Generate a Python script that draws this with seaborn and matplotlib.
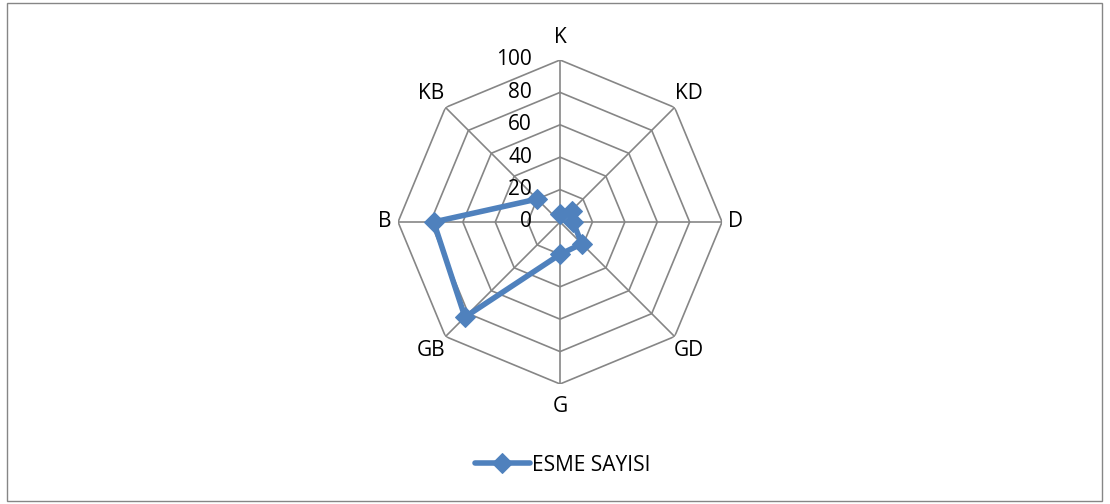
import numpy as np
import pandas as pd
import matplotlib
matplotlib.use("Agg")
import matplotlib.pyplot as plt
import matplotlib.transforms as mtransforms
from matplotlib.patches import Rectangle
import seaborn as sns

# yon kategorileri ve esme sayilari
yonler = ["K", "KD", "D", "GD", "G", "GB", "B", "KB"]
esme_sayisi = [5, 10, 8, 19, 20, 83, 78, 20]
halkalar = [0, 20, 40, 60, 80, 100]
seri_adi = "ESME SAYISI"

sns.set_theme(style="white")
plt.rcParams["font.family"] = ["Open Sans", "DejaVu Sans"]
plt.rcParams["text.color"] = "black"

mavi = "#4F81BD"
gri = "#868686"

fig = plt.figure(figsize=(11.1, 5.04), dpi=100)
ax = fig.add_axes([0.3586, 0.2381, 0.2919, 0.6429], projection="polar")
ax.set_theta_zero_location("N")
ax.set_theta_direction(-1)

n = len(yonler)
aci = np.linspace(0, 2 * np.pi, n, endpoint=False)
aci_kapali = np.append(aci, aci[0])

# sekizgen izgara
for r in halkalar[1:]:
    ax.plot(aci_kapali, [r] * (n + 1), color=gri, lw=1.2, zorder=1)
for t in aci:
    ax.plot([t, t], [0, halkalar[-1]], color=gri, lw=1.2, zorder=1)

df = pd.DataFrame({"aci": aci_kapali,
                   "deger": esme_sayisi + esme_sayisi[:1]})
sns.lineplot(data=df, x="aci", y="deger", sort=False, ax=ax,
             color=mavi, lw=4, marker="D", markersize=10,
             markeredgecolor=mavi, label=seri_adi, zorder=3)

ax.set_ylim(0, halkalar[-1])
ax.set_xticks([])
ax.set_yticks([])
ax.set_xlabel("")
ax.set_ylabel("")
ax.grid(False)
ax.spines["polar"].set_visible(False)
ax.patch.set_alpha(0)
if ax.get_legend() is not None:
    ax.get_legend().remove()

# yon etiketleri
for t, ad in zip(aci, yonler):
    dikey = abs(np.cos(t))
    ax.text(t, 108 + 6 * dikey, ad, ha="center", va="center",
            fontsize=15, color="black")

# halka etiketleri
kaydir = mtransforms.offset_copy(ax.transData, fig=fig, x=-28, y=0, units="dots")
for r in halkalar:
    ax.text(0, r, str(r), transform=kaydir, ha="right", va="center",
            fontsize=15, color="black")

h, l = ax.get_legend_handles_labels()
leg = fig.legend(h[:1], l[:1], loc="center", bbox_to_anchor=(0.507, 0.077),
                 frameon=False, fontsize=15, handlelength=2.6, handletextpad=0.1)
for tx in leg.get_texts():
    tx.set_color("black")

fig.patches.append(Rectangle((7 / 1110, 3 / 504), 1095 / 1110, 498 / 504,
                             transform=fig.transFigure, fill=False,
                             edgecolor=gri, lw=1, zorder=10))

fig.savefig("out.png", dpi=100)
